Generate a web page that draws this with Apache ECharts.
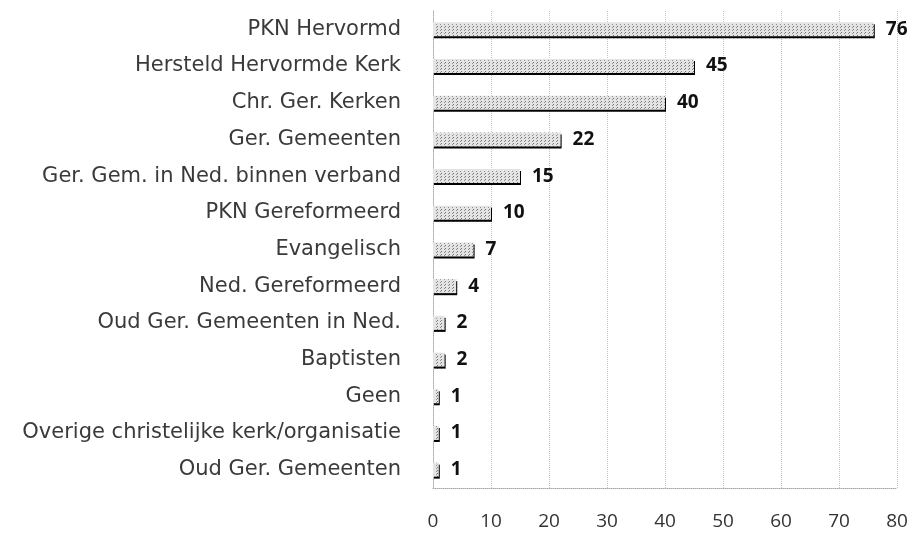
<!DOCTYPE html>
<html>
<head>
<meta charset="utf-8">
<script src="https://cdn.jsdelivr.net/npm/echarts@6/dist/echarts.min.js"></script>
<style>
  html, body { margin: 0; padding: 0; background: #fff; }
  #chart { width: 921px; height: 533px; }
</style>
</head>
<body>
<div id="chart"></div>
<script>
  // categories from top to bottom
  var categories = [
    'PKN Hervormd',
    'Hersteld Hervormde Kerk',
    'Chr. Ger. Kerken',
    'Ger. Gemeenten',
    'Ger. Gem. in Ned. binnen verband',
    'PKN Gereformeerd',
    'Evangelisch',
    'Ned. Gereformeerd',
    'Oud Ger. Gemeenten in Ned.',
    'Baptisten',
    'Geen',
    'Overige christelijke kerk/organisatie',
    'Oud Ger. Gemeenten'
  ]
  var counts = [76, 45, 40, 22, 15, 10, 7, 4, 2, 2, 1, 1, 1]
  var xTicks = [0, 10, 20, 30, 40, 50, 60, 70, 80]

  var chart = echarts.init(document.getElementById('chart'), null, { renderer: 'canvas' })
  chart.setOption({
    animation: false,
    backgroundColor: '#fff',
    grid: {
      left: 433,
      right: 24,
      top: 11,
      bottom: 45,
      containLabel: false,
      outerBoundsMode: 'none'
    },
    xAxis: {
      type: 'value',
      min: xTicks[0],
      max: xTicks[xTicks.length - 1],
      interval: 10,
      axisLine: { show: true, lineStyle: { color: '#aaa', type: 'dotted', width: 1 } },
      axisTick: { show: false },
      axisLabel: {
        margin: 24,
        color: '#333',
        fontFamily: 'Open Sans',
        fontSize: 19
      },
      splitLine: { show: true, lineStyle: { color: '#c4c4c4', type: 'dotted', width: 1 } }
    },
    yAxis: {
      type: 'category',
      inverse: true,
      data: categories,
      axisLine: { show: true, lineStyle: { color: '#aaa', type: 'dotted', width: 1 } },
      axisTick: { show: false },
      axisLabel: {
        margin: 32,
        color: '#3a3a3a',
        fontFamily: 'DejaVu Sans',
        fontSize: 21
      }
    },
    series: [
      {
        type: 'bar',
        data: counts,
        barWidth: 14,
        itemStyle: {
          color: '#e4e4e4',
          shadowColor: '#000',
          shadowBlur: 0,
          shadowOffsetY: 2,
          shadowOffsetX: 1,
          decal: {
            symbol: 'rect',
            symbolSize: 1,
            dashArrayX: [1, 3],
            dashArrayY: [1, 2],
            color: 'rgba(60,60,60,0.5)',
            rotation: 0
          }
        },
        label: {
          show: true,
          position: 'right',
          distance: 12,
          color: '#111',
          fontFamily: 'Open Sans',
          fontWeight: 'bold',
          fontSize: 19
        }
      }
    ]
  })
</script>
</body>
</html>
